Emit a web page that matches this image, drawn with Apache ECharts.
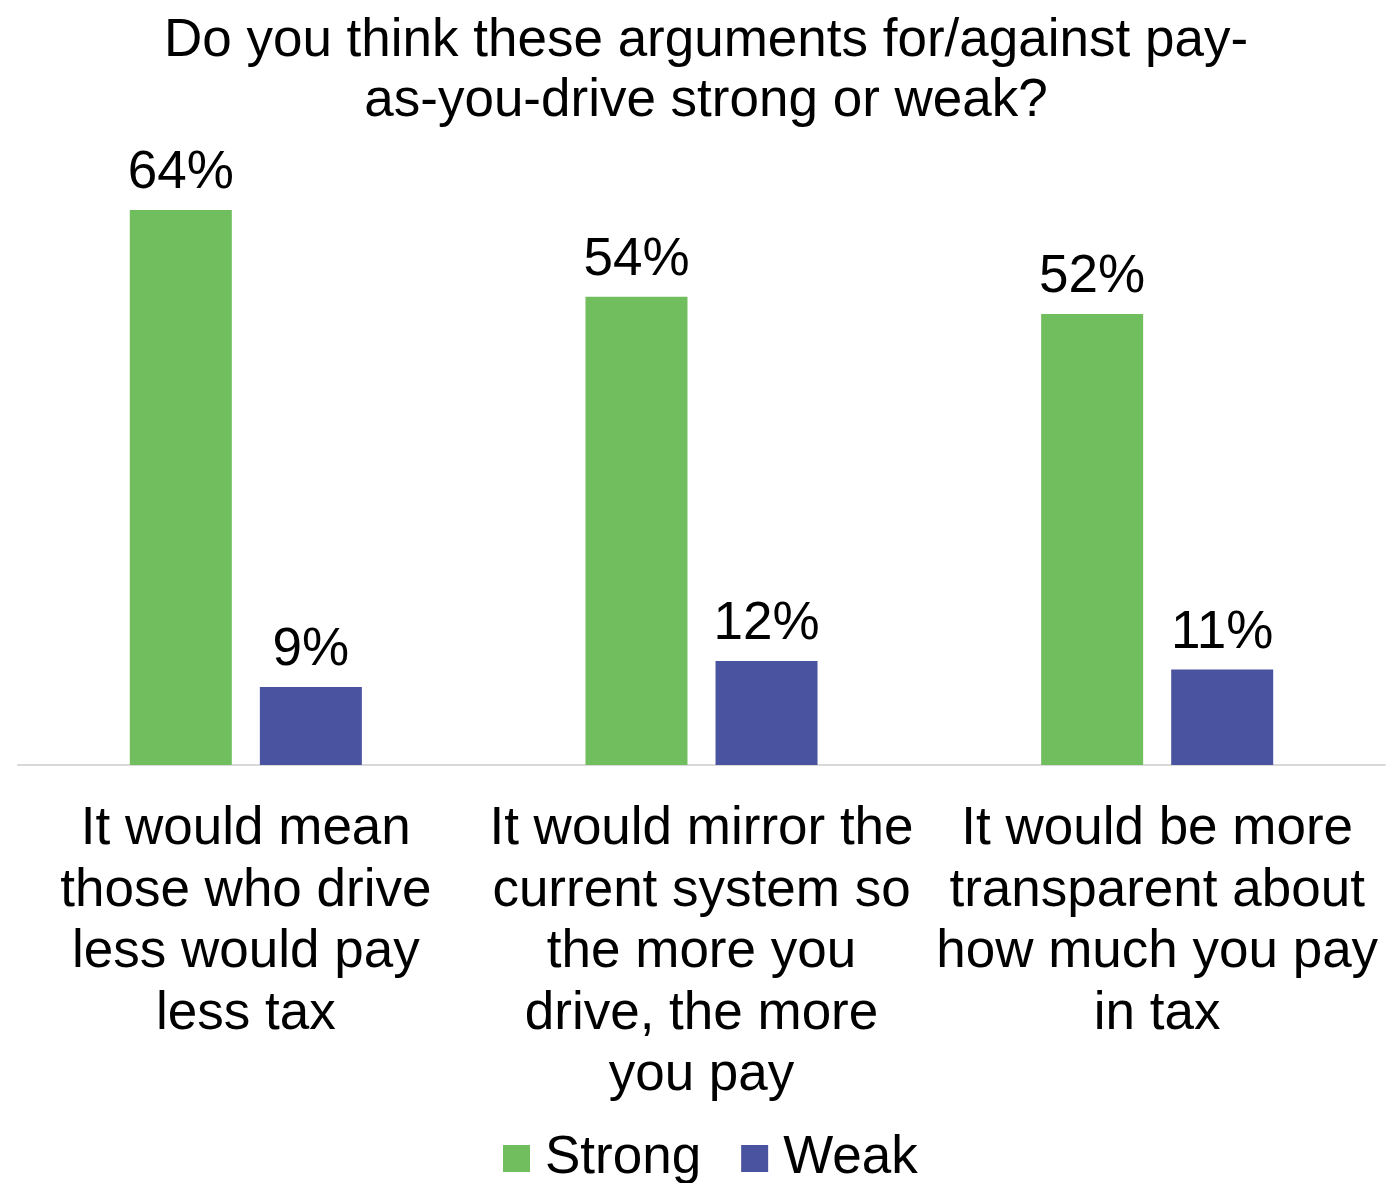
<!DOCTYPE html>
<html>
<head>
<meta charset="utf-8">
<script src="https://cdn.jsdelivr.net/npm/echarts@6/dist/echarts.min.js"></script>
<style>
  html, body { margin: 0; padding: 0; background: #ffffff; }
  #chart { width: 1387px; height: 1183px; }
</style>
</head>
<body>
<div id="chart"></div>
<script>
// Survey: strength of arguments for/against pay-as-you-drive
const titleText = 'Do you think these arguments for/against pay-\nas-you-drive strong or weak?';
const categories = [
  'It would mean\nthose who drive\nless would pay\nless tax',
  'It would mirror the\ncurrent system so\nthe more you\ndrive, the more\nyou pay',
  'It would be more\ntransparent about\nhow much you pay\nin tax'
];
const seriesNames = ['Strong', 'Weak'];
const strongValues = [64, 54, 52];
const weakValues = [9, 12, 11];

const FONT = '"Liberation Sans", Arial, Helvetica, sans-serif';
const FONT_SIZE = 53;
const chart = echarts.init(document.getElementById('chart'), null, { renderer: 'canvas' });

const labelStyle = {
  show: true,
  position: 'top',
  distance: 10,
  formatter: '{c}%',
  color: '#000000',
  fontFamily: FONT,
  fontSize: FONT_SIZE
};

chart.setOption({
  backgroundColor: '#ffffff',
  animation: false,
  title: {
    text: titleText,
    left: 701,
    textAlign: 'center',
    top: 6,
    textStyle: {
      fontFamily: FONT,
      fontSize: FONT_SIZE,
      fontWeight: 'normal',
      color: '#000000',
      lineHeight: 60
    }
  },
  legend: {
    data: seriesNames,
    top: 1132,
    left: 503,
    padding: 0,
    itemWidth: 27,
    itemHeight: 27,
    itemGap: 40,
    icon: 'rect',
    textStyle: {
      fontFamily: FONT,
      fontSize: FONT_SIZE,
      color: '#000000',
      padding: [0, 0, 0, 10]
    }
  },
  grid: {
    left: 18,
    right: 2,
    top: 158,
    bottom: 418,
    containLabel: false
  },
  xAxis: {
    type: 'category',
    data: categories,
    axisLine: { show: true, lineStyle: { color: '#D9D9D9', width: 2 } },
    axisTick: { show: false },
    axisLabel: {
      interval: 0,
      margin: 34,
      fontFamily: FONT,
      fontSize: FONT_SIZE,
      lineHeight: 61.5,
      color: '#000000',
      align: 'center'
    }
  },
  yAxis: {
    type: 'value',
    min: 0,
    max: 70,
    show: false,
    splitLine: { show: false }
  },
  series: [
    {
      name: seriesNames[0],
      type: 'bar',
      data: strongValues,
      barWidth: 102,
      barGap: '27.5%',
      itemStyle: { color: '#71BE5E' },
      label: labelStyle
    },
    {
      name: seriesNames[1],
      type: 'bar',
      data: weakValues,
      barWidth: 102,
      barGap: '27.5%',
      itemStyle: { color: '#4A53A0' },
      label: labelStyle
    }
  ]
});
</script>
</body>
</html>
